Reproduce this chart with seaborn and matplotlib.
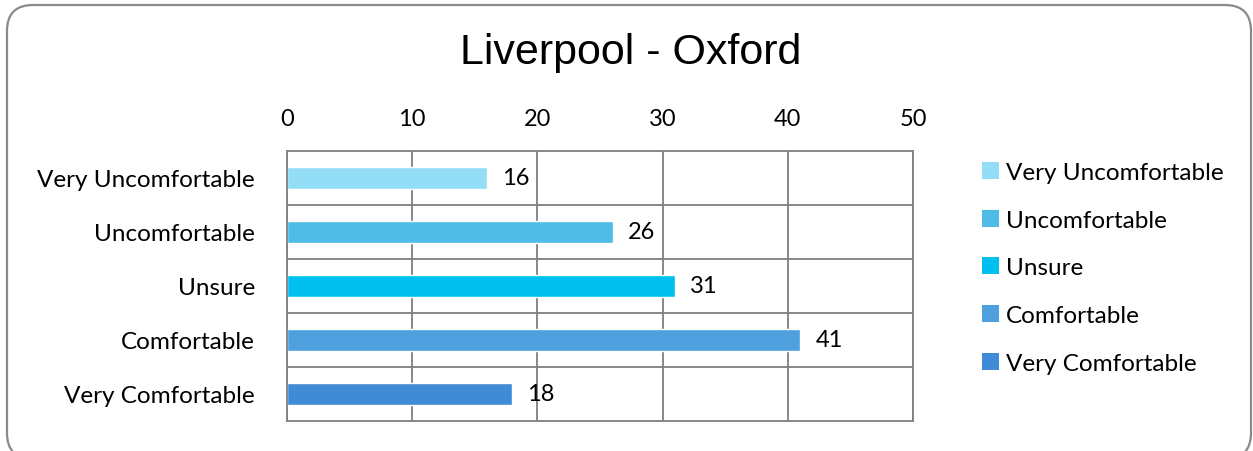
import matplotlib
matplotlib.use("Agg")
import matplotlib.pyplot as plt
from matplotlib.patches import FancyBboxPatch, Patch
import seaborn as sns
import pandas as pd

categories = ["Very Uncomfortable", "Uncomfortable", "Unsure", "Comfortable", "Very Comfortable"]
values = [16, 26, 31, 41, 18]
colors = ["#93DDF7", "#4EBCE6", "#00C0F0", "#4FA0DE", "#3F8BD5"]
x_ticks = [0, 10, 20, 30, 40, 50]
title = "Liverpool - Oxford"

sns.set_theme(style="white")
plt.rcParams["font.family"] = ["Lato", "DejaVu Sans"]

df = pd.DataFrame({"category": categories, "value": values})
palette = dict(zip(categories, colors))

W, H = 1253, 452
fig = plt.figure(figsize=(W / 100, H / 100), dpi=100)
fig.patch.set_facecolor("white")

# rounded outer frame, laid out in pixel units
frame = FancyBboxPatch((7, -8), 1244, H - 6 + 8,
                       boxstyle="round,pad=0,rounding_size=26",
                       transform=None, fill=False,
                       edgecolor="#8a8a8a", linewidth=1.6)
fig.patches.append(frame)

ax = fig.add_axes([287 / W, 1 - 422 / H, 626 / W, 270 / H])
sns.barplot(data=df, x="value", y="category", hue="category", palette=palette,
            dodge=False, width=0.4, legend=False, ax=ax, saturation=1)

ax.set_xlim(0, 50)
ax.set_ylim(4.5, -0.5)
ax.set_xticks(x_ticks)
ax.xaxis.tick_top()
ax.tick_params(axis="x", length=0, pad=16, labelsize=17, labelcolor="black")
ax.tick_params(axis="y", length=0, pad=23, labelsize=17.5, labelcolor="black")
ax.set_xlabel("")
ax.set_ylabel("")
ax.set_yticks(range(len(categories)))
ax.set_yticks([i + 0.5 for i in range(len(categories) - 1)], minor=True)
ax.grid(True, axis="x", color="#7f7f7f", linewidth=1.3)
ax.grid(True, axis="y", which="minor", color="#7f7f7f", linewidth=1.3)
ax.set_axisbelow(True)
for s in ax.spines.values():
    s.set_visible(True)
    s.set_color("#7f7f7f")
    s.set_linewidth(1.3)

for i, v in enumerate(values):
    ax.text(v + 1.2, i, str(v), va="center", ha="left", fontsize=17, color="black")

fig.text(631 / W, 1 - 53 / H, title, ha="center", va="center", fontsize=31,
         family="Liberation Sans", color="black")

handles = [Patch(facecolor=c, edgecolor="none") for c in colors]
fig.legend(handles, categories, loc="upper left", bbox_to_anchor=(960 / W, 1 - 141 / H),
           frameon=False, fontsize=17.5, handlelength=0.7, handleheight=0.7,
           handletextpad=0.3, labelspacing=1.1, labelcolor="black")

fig.savefig("out.png", dpi=100)
